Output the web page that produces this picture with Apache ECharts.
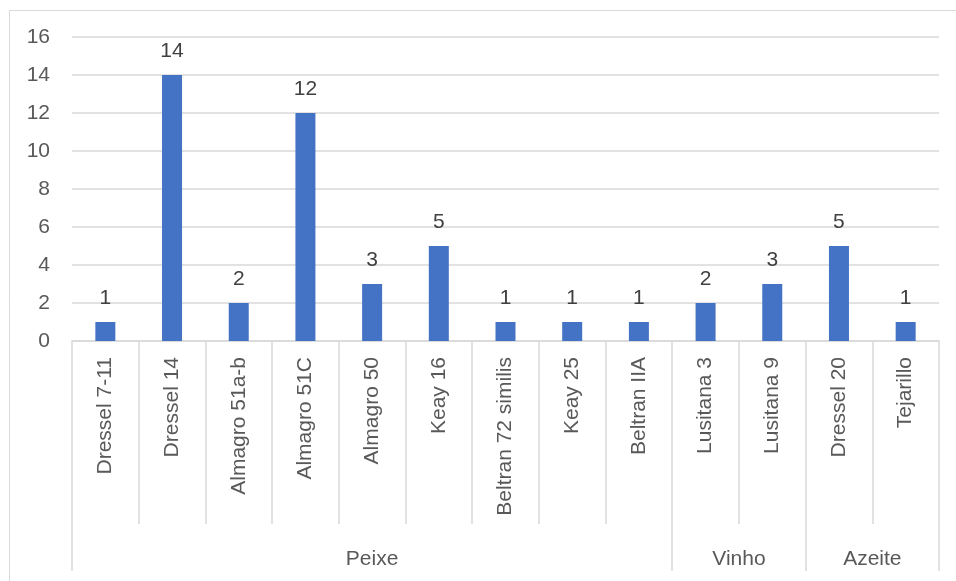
<!DOCTYPE html>
<html>
<head>
<meta charset="utf-8">
<script src="https://cdn.jsdelivr.net/npm/echarts@6/dist/echarts.min.js"></script>
<style>
html,body{margin:0;padding:0;background:#fff;}
#c{width:956px;height:581px;}
</style>
</head>
<body>
<div id="c"></div>
<script>
const categories = ["Dressel 7-11","Dressel 14","Almagro 51a-b","Almagro 51C","Almagro 50","Keay 16","Beltran 72 similis","Keay 25","Beltran IIA","Lusitana 3","Lusitana 9","Dressel 20","Tejarillo"];
const values = [1,14,2,12,3,5,1,1,1,2,3,5,1];
const groups = ["Peixe","Vinho","Azeite"];
const groupSizes = [9,2,2];
const yTicks = [0,2,4,6,8,10,12,14,16];

// group boundaries and centres in category-index units
const bounds = [0];
groupSizes.forEach(s => bounds.push(bounds[bounds.length-1] + s));
const centres = groups.map((g,i) => (bounds[i] + bounds[i+1]) / 2);

const FONT = "Liberation Sans";
const FS = 21;
const chart = echarts.init(document.getElementById('c'), null, {renderer:'canvas'});
chart.setOption({
  animation: false,
  backgroundColor: '#fff',
  textStyle: {fontFamily: FONT},
  graphic: [{
    type: 'rect', left: 7, top: 8, silent: true,
    shape: {width: 960, height: 590},
    style: {fill: 'none', stroke: '#d9d9d9', lineWidth: 1}
  }],
  grid: {left: 72, right: 17, top: 37, bottom: 240, containLabel: false},
  xAxis: [{
    type: 'category',
    data: categories,
    boundaryGap: true,
    axisLine: {show: true, lineStyle: {color: '#d9d9d9', width: 1.5}},
    axisTick: {show: true, interval: 0, length: 183, lineStyle: {color: '#d9d9d9', width: 1.5}},
    axisLabel: {interval: 0, rotate: 90, margin: 16, fontSize: FS, color: '#595959', fontFamily: FONT}
  }, {
    type: 'value',
    position: 'bottom',
    min: 0, max: categories.length,
    axisLine: {show: false},
    splitLine: {show: false},
    axisTick: {show: true, customValues: bounds, length: 230, lineStyle: {color: '#d9d9d9', width: 1.5}},
    axisLabel: {customValues: centres, margin: 208, fontSize: FS, color: '#595959', fontFamily: FONT,
      formatter: v => { const i = centres.indexOf(v); return i >= 0 ? groups[i] : ''; }}
  }],
  yAxis: {
    type: 'value', min: yTicks[0], max: yTicks[yTicks.length-1], interval: 2,
    axisLine: {show: false}, axisTick: {show: false},
    splitLine: {lineStyle: {color: '#d9d9d9', width: 1.5}},
    axisLabel: {margin: 22, fontSize: FS, color: '#595959', fontFamily: FONT}
  },
  series: [{
    type: 'bar', xAxisIndex: 0, data: values, barWidth: 20,
    itemStyle: {color: '#4472C4'},
    label: {show: true, position: 'top', distance: 13, fontSize: FS, color: '#404040', fontFamily: FONT}
  }]
});
</script>
</body>
</html>
